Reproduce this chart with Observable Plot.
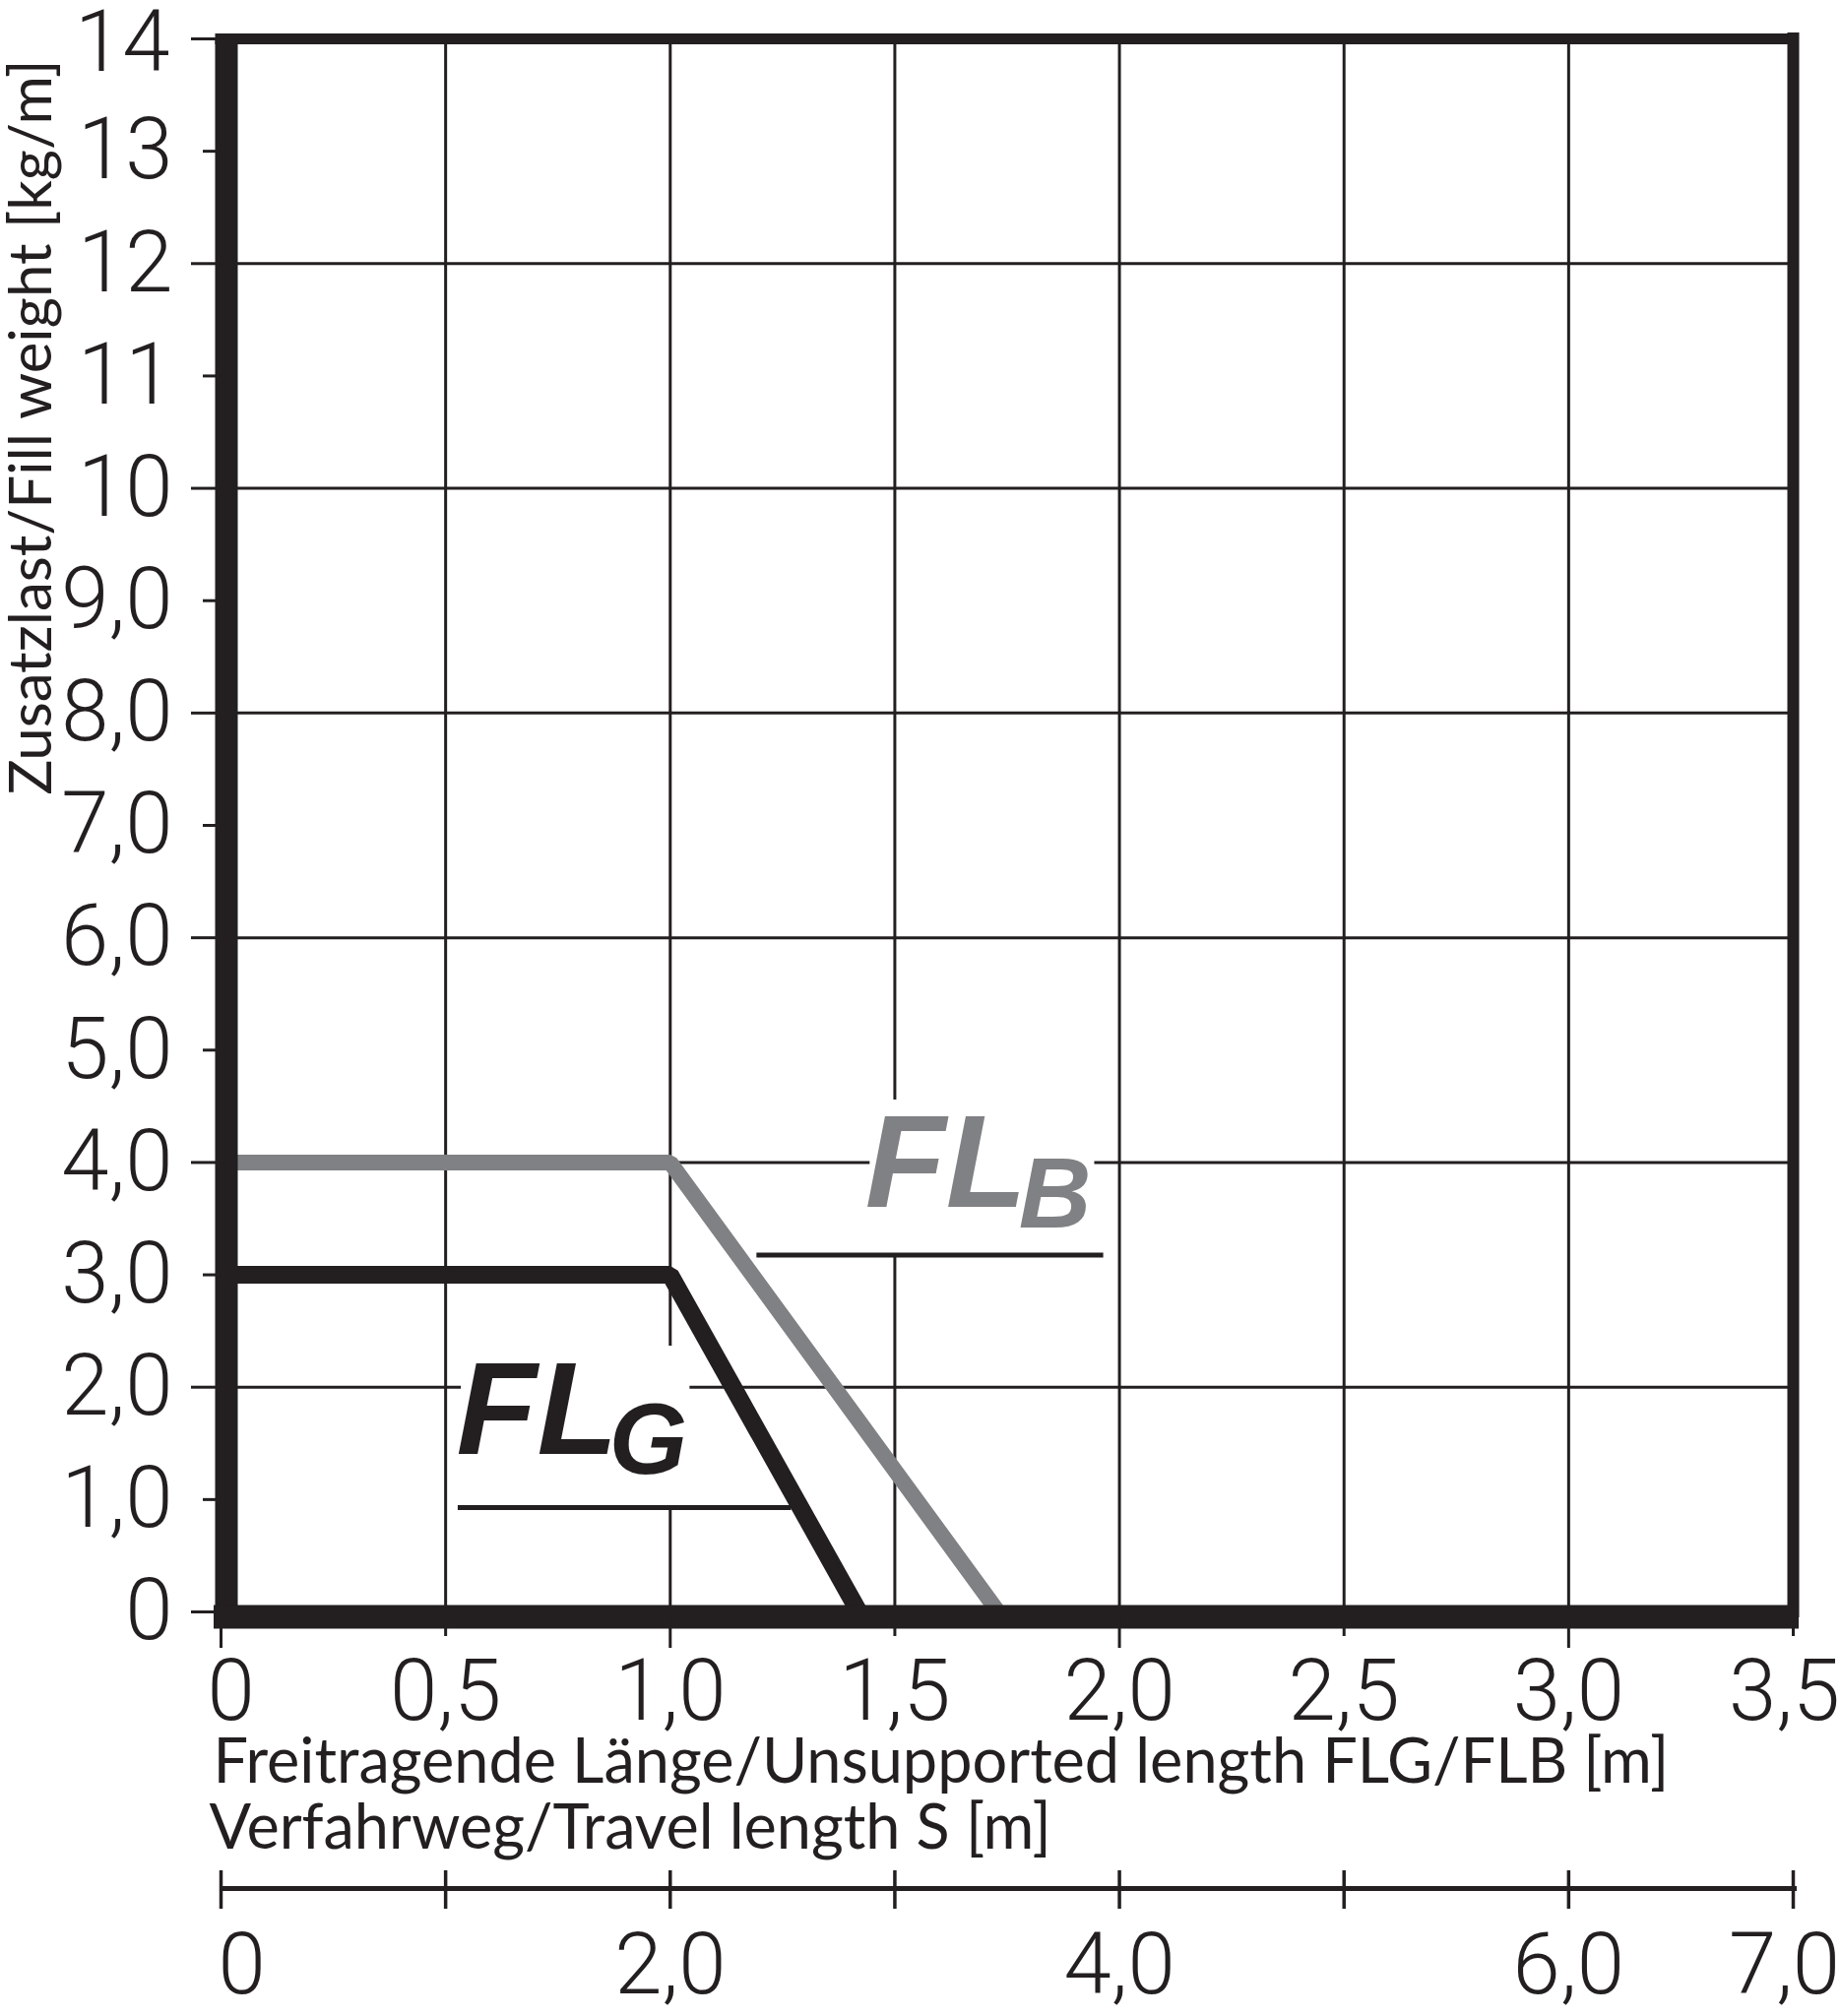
<!DOCTYPE html>
<html>
<head>
<meta charset="utf-8">
<script src="https://cdn.jsdelivr.net/npm/d3@7"></script>
<script src="https://cdn.jsdelivr.net/npm/@observablehq/plot@0.6"></script>
<style>
  html, body { margin: 0; padding: 0; background: #fff; }
  #chart { width: 1870px; height: 2048px; }
</style>
</head>
<body>
<div id="chart"></div>
<script>
// ---- data ----
const xTicks = [0, 0.5, 1, 1.5, 2, 2.5, 3, 3.5];
const xTickLabels = ["0", "0,5", "1,0", "1,5", "2,0", "2,5", "3,0", "3,5"];
const yTicks = [0, 1, 2, 3, 4, 5, 6, 7, 8, 9, 10, 11, 12, 13, 14];
const yTickLabels = ["0", "1,0", "2,0", "3,0", "4,0", "5,0", "6,0", "7,0", "8,0", "9,0", "10", "11", "12", "13", "14"];
const sTicks = [0, 1, 2, 3, 4, 5, 6, 7];
const sLabelTicks = [0, 2, 4, 6, 7];
const sTickLabels = ["0", "2,0", "4,0", "6,0", "7,0"];

const flgX = [0, 1.0, 1.42];
const flgY = [3, 3, 0];
const flbX = [0, 1.0, 1.73];
const flbY = [4, 4, 0];

const xTitle = "Freitragende Länge/Unsupported length FLG/FLB [m]";
const sTitle = "Verfahrweg/Travel length S [m]";
const yTitle = "Zusatzlast/Fill weight [kg/m]";

// ---- derived tables ----
const flg = flgX.map((x, i) => ({x, y: flgY[i]}));
const flb = flbX.map((x, i) => ({x, y: flbY[i]}));
const xLab = d => xTickLabels[xTicks.indexOf(d)];
const yLab = d => yTickLabels[yTicks.indexOf(d)];
const sLab = s => sTickLabels[sLabelTicks.indexOf(s)];

const ink = "#231f20";
const grey = "#808184";
const tickFont = {fontSize: 87, fontFamily: "Roboto", fontWeight: 300, fill: ink};
const titleFont = {fontFamily: "Lato", fill: ink};

const chart = Plot.plot({
  width: 1870,
  height: 2048,
  marginLeft: 224,
  marginRight: 49,
  marginTop: 39,
  marginBottom: 411,
  style: {fontFamily: "Liberation Sans", color: ink, background: "#fff"},
  x: {domain: [0, 3.5], axis: null},
  y: {domain: [0, 14], axis: null},
  marks: [
    // grid
    Plot.gridX(xTicks.filter(d => d > 0 && d < 3.5), {stroke: ink, strokeOpacity: 1, strokeWidth: 3}),
    Plot.gridY(yTicks.filter(d => d % 2 === 0 && d > 0 && d < 14), {stroke: ink, strokeOpacity: 1, strokeWidth: 3}),
    // knockouts behind the series labels
    Plot.rect([0], {x1: 1.445, x2: 1.945, y1: 3.163, y2: 4.556, fill: "#fff"}),
    Plot.rect([0], {x1: 0.535, x2: 1.044, y1: 0.911, y2: 2.365, fill: "#fff"}),
    // series
    Plot.line(flb, {x: "x", y: "y", stroke: grey, strokeWidth: 16, strokeLinejoin: "miter", strokeLinecap: "butt"}),
    Plot.line(flg, {x: "x", y: "y", stroke: ink, strokeWidth: 18, strokeLinejoin: "miter", strokeLinecap: "butt"}),
    // series labels
    Plot.text(["FL"], {x: 1.434, y: 3.601, text: d => d, textAnchor: "start", lineAnchor: "bottom",
      fontSize: 134, fontWeight: "bold", fontStyle: "italic", fontFamily: "Liberation Sans", fill: grey}),
    Plot.text(["B"], {x: 1.776, y: 3.417, text: d => d, textAnchor: "start", lineAnchor: "bottom",
      fontSize: 102, fontWeight: "bold", fontStyle: "italic", fontFamily: "Liberation Sans", fill: grey}),
    Plot.ruleY([3.176], {x1: 1.193, x2: 1.965, stroke: ink, strokeWidth: 5}),
    Plot.text(["FL"], {x: 0.524, y: 1.402, text: d => d, textAnchor: "start", lineAnchor: "bottom",
      fontSize: 134, fontWeight: "bold", fontStyle: "italic", fontFamily: "Liberation Sans", fill: ink}),
    Plot.text(["G"], {x: 0.864, y: 1.227, text: d => d, textAnchor: "start", lineAnchor: "bottom",
      fontSize: 102, fontWeight: "bold", fontStyle: "italic", fontFamily: "Liberation Sans", fill: ink}),
    Plot.ruleY([0.929], {x1: 0.528, x2: 1.270, stroke: ink, strokeWidth: 5}),
    // frame
    Plot.ruleY([14], {x1: 0, x2: 3.5, stroke: ink, strokeWidth: 11, strokeLinecap: "square"}),
    Plot.ruleX([3.5], {y1: 0, y2: 14, stroke: ink, strokeWidth: 12, strokeLinecap: "square"}),
    Plot.ruleX([0], {y1: 0, y2: 14, stroke: ink, strokeWidth: 23, dx: 5.5}),
    Plot.ruleY([0], {x1: 0, x2: 3.5, stroke: ink, strokeWidth: 24, dy: 5, insetLeft: -7, insetRight: -6}),
    // y ticks (even long, odd short)
    Plot.axisY(yTicks.filter(d => d % 2 === 0), {anchor: "left", tickSize: 30, fill: "none", stroke: ink, strokeWidth: 3, label: null}),
    Plot.axisY(yTicks.filter(d => d % 2 === 1), {anchor: "left", tickSize: 18, fill: "none", stroke: ink, strokeWidth: 3, label: null}),
    // y labels
    Plot.axisY(yTicks.filter(d => d < 14), {anchor: "left", tickSize: 0, tickPadding: 49, tickFormat: yLab, label: null, ...tickFont}),
    Plot.axisY([14], {anchor: "left", tickSize: 0, tickPadding: 52, tickFormat: yLab, label: null, dy: 5, ...tickFont}),
    // x ticks (integer long, half short)
    Plot.axisX(xTicks.filter(d => d % 1 === 0), {anchor: "bottom", tickSize: 37, fill: "none", stroke: ink, strokeWidth: 3, label: null}),
    Plot.axisX(xTicks.filter(d => d % 1 !== 0), {anchor: "bottom", tickSize: 25, fill: "none", stroke: ink, strokeWidth: 3, label: null}),
    // x labels
    Plot.axisX(xTicks.filter(d => d > 0 && d < 3.5), {anchor: "bottom", tickSize: 0, tickPadding: 48, tickFormat: xLab, label: null, ...tickFont}),
    Plot.axisX([0], {anchor: "bottom", tickSize: 0, tickPadding: 48, tickFormat: xLab, label: null, dx: 10, ...tickFont}),
    Plot.axisX([3.5], {anchor: "bottom", tickSize: 0, tickPadding: 48, tickFormat: xLab, label: null, dx: -9, ...tickFont}),
    // axis titles
    Plot.text([xTitle], {frameAnchor: "bottom-left", text: d => d, textAnchor: "start", lineAnchor: "bottom",
      dx: -8, dy: 173, fontSize: 63, ...titleFont}),
    Plot.text([sTitle], {frameAnchor: "bottom-left", text: d => d, textAnchor: "start", lineAnchor: "bottom",
      dx: -12, dy: 240, fontSize: 63, ...titleFont}),
    Plot.text([yTitle], {frameAnchor: "left", text: d => d, rotate: -90, textAnchor: "start", lineAnchor: "bottom",
      dx: -173, dy: -31, fontSize: 60, ...titleFont}),
    // secondary axis: travel length S = 2 x unsupported length
    Plot.ruleY([0], {x1: 0, x2: 3.5, stroke: ink, strokeWidth: 5, dy: 281, insetRight: -4}),
    Plot.axisX(sTicks.map(s => s / 2), {anchor: "bottom", tickSize: 39, dy: 263, fill: "none", stroke: ink, strokeWidth: 3.5, label: null}),
    Plot.axisX(sLabelTicks.filter(s => s > 0 && s < 7).map(s => s / 2), {anchor: "bottom", tickSize: 0, tickPadding: 326,
      tickFormat: x => sLab(x * 2), label: null, ...tickFont}),
    Plot.axisX([0], {anchor: "bottom", tickSize: 0, tickPadding: 326, tickFormat: x => sLab(x * 2), label: null, dx: 21, ...tickFont}),
    Plot.axisX([3.5], {anchor: "bottom", tickSize: 0, tickPadding: 326, tickFormat: x => sLab(x * 2), label: null, dx: -9, ...tickFont})
  ]
});
document.getElementById("chart").appendChild(chart);
</script>
</body>
</html>
